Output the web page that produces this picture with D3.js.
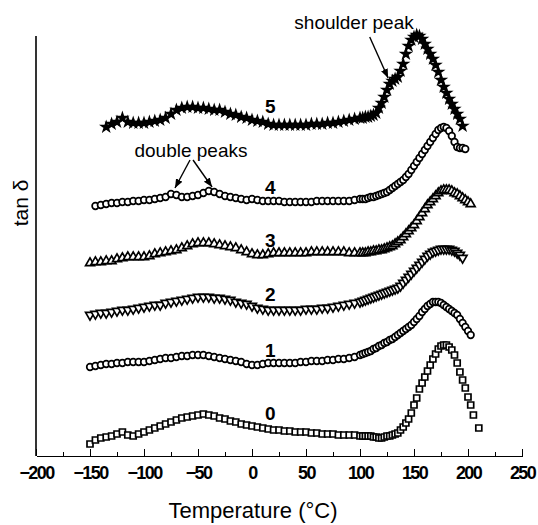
<!DOCTYPE html>
<html lang="en">
<head>
  <meta charset="UTF-8">
  <title>tan δ vs Temperature</title>
  <script src="https://d3js.org/d3.v7.min.js"></script>
  <style>
    body { margin: 0; background: #fff; }
    svg { display: block; font-family: Arial, "Liberation Sans", Helvetica, sans-serif; }
    .axis path, .axis line { stroke: #000; stroke-width: 1.6; shape-rendering: crispEdges; }
    .axis text { font-size: 18px; font-weight: bold; letter-spacing: -1.6px; fill: #000; }
  </style>
</head>
<body>
  <svg width="538" height="525"></svg>

  <script>
    // temperature grid (°C) shared by all curves, finer in the peak region
    const temps = [
      -150,-145,-140,-135,-130,-125,-120,-115,-110,-105,
      -100,-95,-90,-85,-80,-75,-70,-65,-60,-55,
      -50,-45,-40,-35,-30,-25,-20,-15,-10,-5,
      0,5,10,15,20,25,30,35,40,45,
      50,55,60,65,70,75,80,85,90,95,
      100,
      102.5,105,107.5,110,112.5,115,117.5,120,122.5,125,
      127.5,130,132.5,135,137.5,140,142.5,145,147.5,150,
      152.5,155,157.5,160,162.5,165,167.5,170,172.5,175,
      177.5,180,182.5,185,187.5,190,192.5,195,197.5,200,
      202.5,205,207.5,210
    ];

    // tan δ, arbitrary units, curves shifted vertically
    const s0 = [
      12,16,18,19,20,22,24,21,20,22,
      24,26,28,30,32,34,36,38,39,40,
      41,42,41,40,38,37,35,34,32,31,
      30,29,28,27,26,26,25,25,24,24,
      24,23,23,22,22,22,21,21,21,21,
      20,
      20,20,20,20,19,19,18,18,19,20,
      20,21,22,23,26,29,33,37,43,51,
      58,67,73,79,85,91,97,102,107,110,
      111,111,109,106,101,93,84,76,68,59,
      51,41,null,28
    ];
    const s1 = [
      89,90,91,92,92,93,93,94,94,94,
      94,95,96,97,98,98,99,100,100,101,
      101,101,100,99,98,97,96,95,94,92,
      91,91,92,93,93,93,93,93,93,94,
      94,95,95,95,96,96,97,97,98,99,
      101,
      102,103,104,105,107,108,110,111,113,114,
      116,117,119,121,123,125,127,129,131,134,
      137,140,144,147,150,152,154,154,154,153,
      151,149,147,145,143,141,137,133,129,125,
      121,null,null,null
    ];
    const s2 = [
      141,142,143,143,144,145,146,146,147,148,
      149,150,151,151,153,154,155,156,157,158,
      159,159,159,158,158,157,156,154,153,152,
      150,148,147,146,146,146,146,146,146,146,
      147,147,147,148,148,149,150,151,152,153,
      154,
      155,156,157,158,159,160,161,162,163,164,
      165,166,167,168,170,173,176,179,182,185,
      188,191,194,197,200,202,204,205,206,207,
      207,207,207,206,205,203,201,198,null,null,
      null,null,null,null
    ];
    const s3 = [
      193,194,194,195,195,197,198,199,199,199,
      199,200,202,203,204,205,206,208,210,212,
      213,213,213,212,211,210,209,208,206,204,
      202,201,201,202,203,203,203,203,203,203,
      203,204,204,204,204,204,204,204,203,203,
      203,
      203,203,204,204,205,205,206,206,207,208,
      209,210,212,214,216,219,222,225,228,231,
      235,239,243,247,251,254,257,260,263,265,
      266,266,266,265,263,262,260,258,256,254,
      252,null,null,null
    ];
    const s4 = [
      null,250,251,252,253,253,254,254,255,255,
      256,256,257,258,259,262,261,259,259,260,
      261,263,265,264,262,260,259,258,257,256,
      257,256,255,255,255,255,254,254,254,254,
      254,254,255,255,255,255,255,255,255,256,
      257,
      257,257,258,259,259,260,261,262,263,264,
      266,268,270,272,274,276,279,282,286,290,
      294,298,302,306,310,314,318,322,326,328,
      329,328,325,320,314,309,308,308,307,null,
      null,null,null,null
    ];
    const s5 = [
      null,null,null,329,332,334,338,334,333,333,
      333,334,335,336,338,342,346,348,349,349,
      348,348,347,346,346,344,342,341,339,338,
      336,335,334,332,331,331,331,331,331,331,
      331,332,332,332,333,333,334,335,336,337,
      338,
      338,339,339,340,341,343,348,353,359,366,
      372,375,377,379,385,392,402,410,416,419,
      421,420,417,412,407,402,397,391,384,376,
      369,363,357,352,347,342,337,330,null,null,
      null,null,null,null
    ];

    const seriesNames = ["0", "1", "2", "3", "4", "5"];
    const seriesValues = [s0, s1, s2, s3, s4, s5];
    const labelT = [17, 17, 17, 17, 17, 17];
    const labelV = [43, 106, 162, 216, 269, 350];

    const xTickValues = [-200, -150, -100, -50, 0, 50, 100, 150, 200, 250];
    const xMinorTicks = [-175, -125, -75, -25, 25, 75, 125, 175, 225];

    // annotations: text, position, arrows [t1, v1, t2, v2]
    const noteText = ["double peaks", "shoulder peak"];
    const noteT = [-56.5, 94.5];
    const noteV = [306, 434];
    const arrows = [
      [-57.4, 296, -71.3, 268],
      [-54.6, 296, -37, 269],
      [109, 419, 126, 378]
    ];

    const svg = d3.select("svg");

    const x = d3.scaleLinear().domain([-200, 250]).range([36, 522]);
    const y = d3.scaleLinear().domain([0, 420]).range([456, 36]);

    // markers per curve
    const symbols = [
      { type: d3.symbolSquare, size: 36, fill: "#fff" },
      { type: d3.symbolCircle, size: 34, fill: "#fff" },
      { type: d3.symbolTriangle, size: 34, fill: "#fff", rotate: 180 },
      { type: d3.symbolTriangle, size: 34, fill: "#fff" },
      { type: d3.symbolCircle, size: 34, fill: "#fff" },
      { type: d3.symbolStar, size: 26, fill: "#000" }
    ];

    seriesValues.forEach((vals, i) => {
      const pts = temps.map((t, j) => [t, vals[j]]).filter(d => d[1] != null);
      const sym = symbols[i];
      svg.append("g")
        .selectAll("path")
        .data(pts)
        .join("path")
        .attr("d", d3.symbol().type(sym.type).size(sym.size))
        .attr("transform", d => `translate(${x(d[0])},${y(d[1])})` + (sym.rotate ? ` rotate(${sym.rotate})` : ""))
        .attr("fill", sym.fill)
        .attr("stroke", "#000")
        .attr("stroke-width", 1.7);
    });

    // curve numbers
    svg.append("g")
      .selectAll("text")
      .data(seriesNames)
      .join("text")
      .attr("x", (d, i) => x(labelT[i]))
      .attr("y", (d, i) => y(labelV[i]))
      .attr("text-anchor", "middle")
      .attr("dominant-baseline", "central")
      .style("font-size", "19px")
      .style("font-weight", "bold")
      .text(d => d);

    // axes
    svg.append("g")
      .attr("class", "axis")
      .attr("transform", `translate(0,${y(0)})`)
      .call(d3.axisBottom(x).tickValues(xTickValues).tickSizeInner(-7).tickSizeOuter(0).tickPadding(10));

    svg.append("g")
      .attr("class", "axis")
      .attr("transform", `translate(0,${y(0)})`)
      .call(d3.axisBottom(x).tickValues(xMinorTicks).tickSizeInner(-4).tickSizeOuter(0).tickFormat(""))
      .select(".domain").remove();

    svg.append("line")
      .attr("x1", x(-200)).attr("x2", x(-200))
      .attr("y1", y(0)).attr("y2", y(420))
      .attr("stroke", "#000")
      .attr("stroke-width", 1.6);

    // axis titles
    svg.append("text")
      .attr("x", 253)
      .attr("y", 518)
      .attr("text-anchor", "middle")
      .style("font-size", "22px")
      .text("Temperature (\u00B0C)");

    svg.append("text")
      .attr("transform", `translate(28,${203}) rotate(-90)`)
      .attr("text-anchor", "middle")
      .style("font-size", "21px")
      .text("tan \u03B4");

    // annotations
    svg.append("defs").append("marker")
      .attr("id", "arrow")
      .attr("viewBox", "0 0 10 10")
      .attr("refX", 10).attr("refY", 5)
      .attr("markerWidth", 9).attr("markerHeight", 9)
      .attr("markerUnits", "userSpaceOnUse")
      .attr("orient", "auto")
      .append("path")
      .attr("d", "M0,1 L10,5 L0,9 z")
      .attr("fill", "#000");

    svg.append("g")
      .selectAll("line")
      .data(arrows)
      .join("line")
      .attr("x1", d => x(d[0])).attr("y1", d => y(d[1]))
      .attr("x2", d => x(d[2])).attr("y2", d => y(d[3]))
      .attr("stroke", "#000")
      .attr("stroke-width", 1.4)
      .attr("marker-end", "url(#arrow)");

    svg.append("g")
      .selectAll("text")
      .data(noteText)
      .join("text")
      .attr("x", (d, i) => x(noteT[i]))
      .attr("y", (d, i) => y(noteV[i]))
      .attr("text-anchor", "middle")
      .attr("dominant-baseline", "central")
      .style("font-size", "19px")
      .text(d => d);
  </script>
</body>
</html>
